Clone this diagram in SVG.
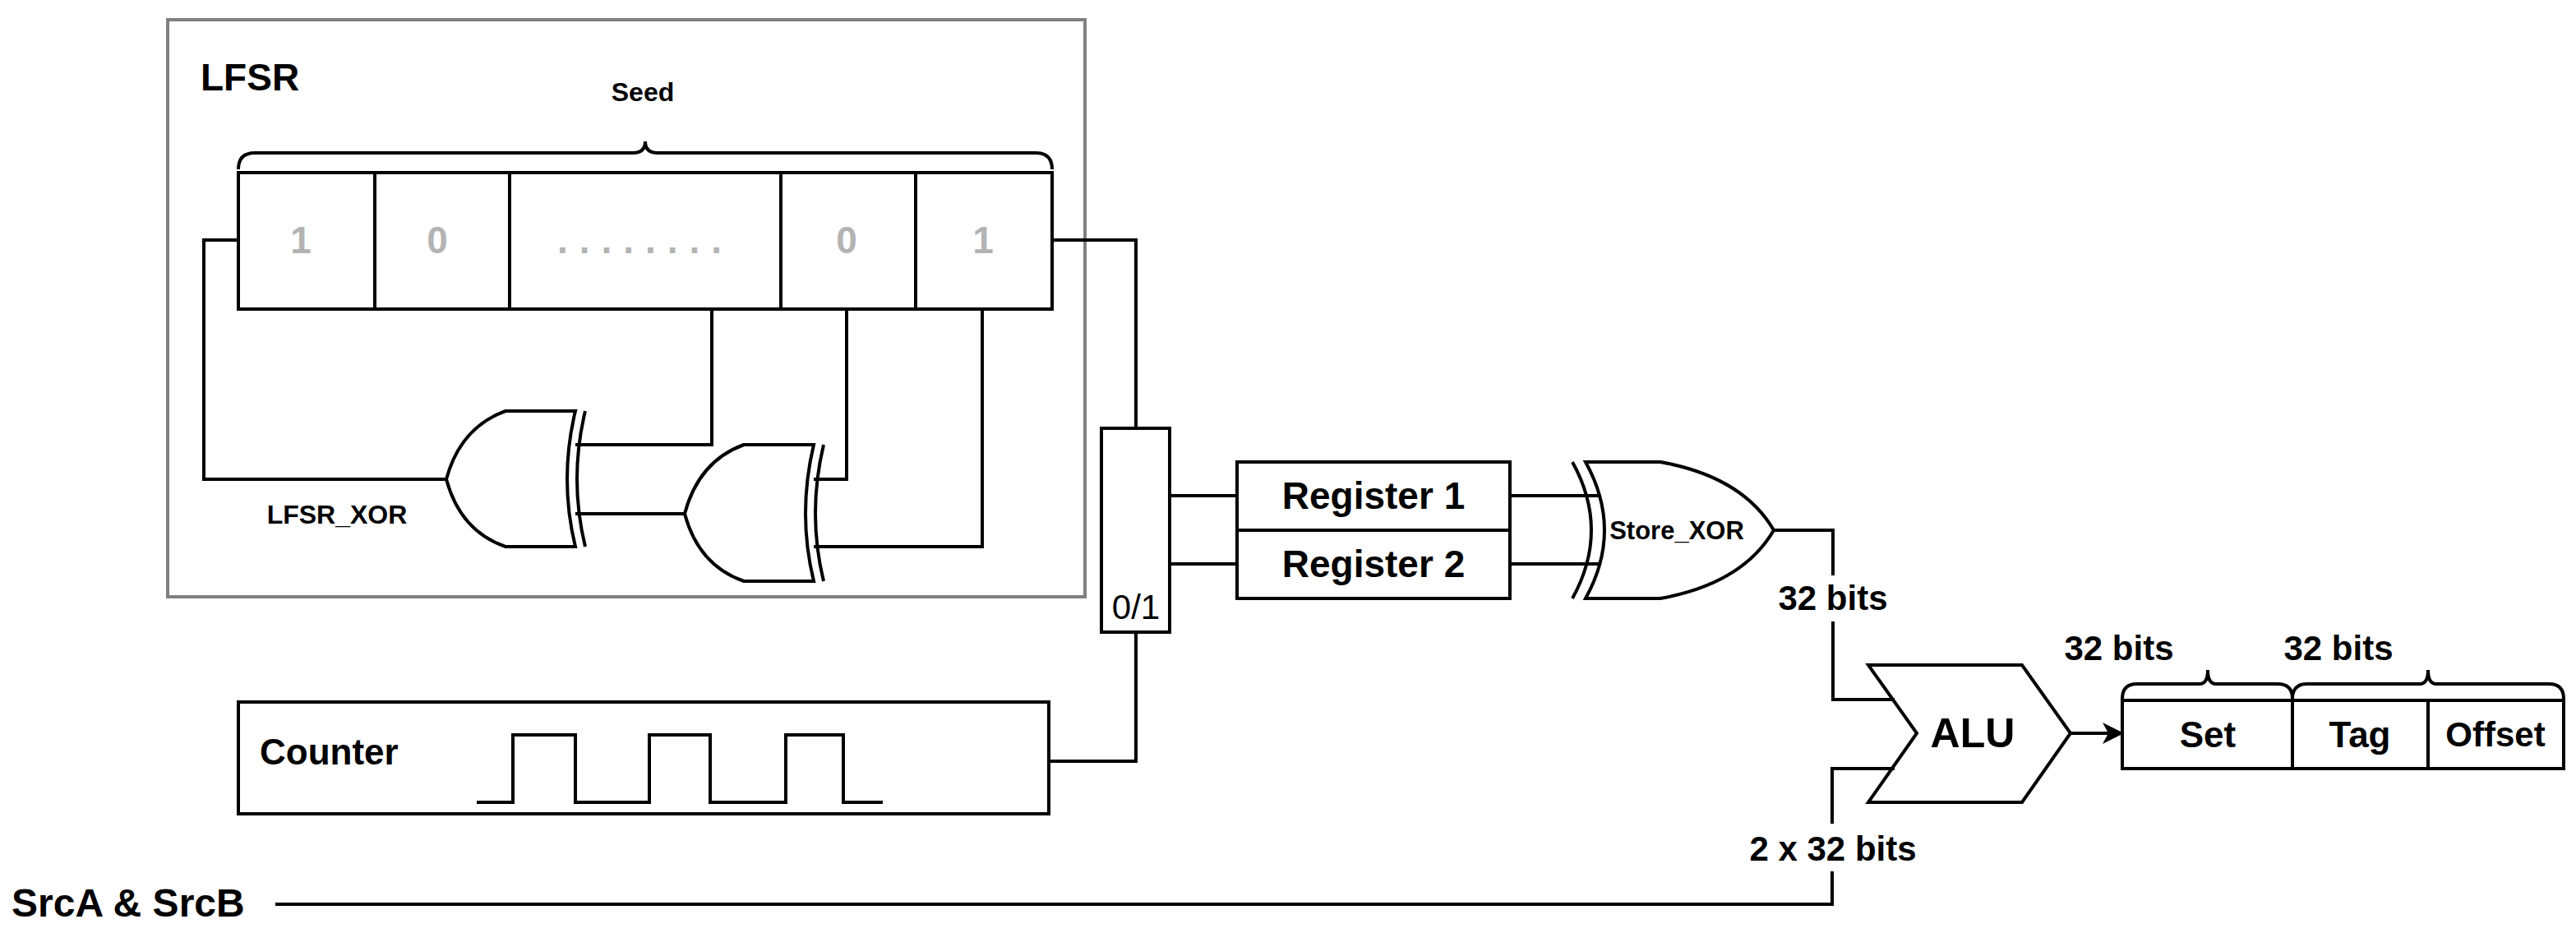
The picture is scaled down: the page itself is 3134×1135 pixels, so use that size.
<svg xmlns="http://www.w3.org/2000/svg" width="3134" height="1135" viewBox="0 0 3134 1135">
<style>
.s{fill:none;stroke:#000;stroke-width:4}
.b{fill:#fff;stroke:#000;stroke-width:4}
.t{font-family:"Liberation Sans",Arial,sans-serif;font-weight:bold;fill:#000;text-anchor:middle;dominant-baseline:central}
.g{font-family:"Liberation Sans",Arial,sans-serif;font-weight:bold;fill:#b3b3b3;font-size:46px;text-anchor:middle;dominant-baseline:central}
</style>
<defs>
<marker id="ah" markerWidth="26" markerHeight="26" refX="24" refY="13" orient="auto" markerUnits="userSpaceOnUse" viewBox="0 0 26 26"><path d="M0,0 L26,13 L0,26 L7,13 z" fill="#000"/></marker>
</defs>
<g id="lfsr">
<rect x="204" y="24" width="1116" height="702" fill="none" stroke="#808080" stroke-width="4"/>
<text class="t" x="244" y="94" font-size="46" style="text-anchor:start">LFSR</text>
<text class="t" x="782" y="112" font-size="32">Seed</text>
<path class="s" d="M290,206 Q290,186 310,186 L770,186 Q785,186 785,172 Q785,186 800,186 L1260,186 Q1280,186 1280,206"/>
<rect class="b" x="290" y="210" width="990" height="166"/>
<path class="s" d="M456,210V376M620,210V376M950,210V376M1114,210V376"/>
<text class="g" x="366" y="292">1</text>
<text class="g" x="532" y="292">0</text>
<text class="g" x="785" y="292" letter-spacing="14">........</text>
<text class="g" x="1030" y="292">0</text>
<text class="g" x="1196" y="292">1</text>
<text class="t" x="410" y="626" font-size="32">LFSR_XOR</text>
</g>
<g id="lfsr_xor1">
<path class="b" d="M700,500 L615,500 Q560,520 543,583 Q560,646 615,665 L700,665 Q680,583 700,500 Z"/>
<path class="s" d="M712,500 Q692,583 712,665"/>
</g>
<g id="lfsr_xor2">
<path class="b" d="M990,541 L905,541 Q850,561 833,625 Q850,688 905,707 L990,707 Q970,625 990,541 Z"/>
<path class="s" d="M1002,541 Q982,625 1002,707"/>
</g>
<g id="mux">
<rect class="b" x="1340" y="521" width="83" height="248"/>
<text class="t" x="1382" y="738" font-size="42" style="font-weight:normal">0/1</text>
</g>
<g id="registers">
<rect class="b" x="1505" y="562" width="332" height="83"/>
<rect class="b" x="1505" y="645" width="332" height="83"/>
<text class="t" x="1671" y="603" font-size="46">Register 1</text>
<text class="t" x="1671" y="686" font-size="46">Register 2</text>
</g>
<g id="store_xor">
<path class="b" d="M1929,562 L2020,562 Q2120,580 2158,645 Q2120,710 2020,728 L1929,728 Q1975,645 1929,562 Z"/>
<path class="s" d="M1913,562 Q1959,645 1913,728"/>
<text class="t" x="2040" y="645" font-size="31">Store_XOR</text>
</g>
<g id="counter">
<rect class="b" x="290" y="854" width="986" height="136"/>
<text class="t" x="316" y="914" font-size="44" style="text-anchor:start">Counter</text>
<path class="s" d="M580,976H624V894H700V976H790V894H864V976H956V894H1026V976H1074"/>
</g>
<g id="alu">
<path class="b" d="M2273,809 L2460,809 L2519,892 L2460,976 L2273,976 L2332,892 Z"/>
<text class="t" x="2400" y="892" font-size="50">ALU</text>
</g>
<g id="address">
<rect class="b" x="2582" y="852" width="537" height="83"/>
<path class="s" d="M2789,852V935M2954,852V935"/>
<text class="t" x="2686" y="893" font-size="44">Set</text>
<text class="t" x="2871" y="893" font-size="44">Tag</text>
<text class="t" x="3036" y="893" font-size="42">Offset</text>
<path class="s" d="M2582,850 Q2582,832 2600,832 L2676,832 Q2686,832 2686,815 Q2686,832 2696,832 L2771,832 Q2789,832 2789,850 Q2789,832 2807,832 L2944,832 Q2954,832 2954,815 Q2954,832 2964,832 L3101,832 Q3119,832 3119,850"/>
<text class="t" x="2578" y="788" font-size="42">32 bits</text>
<text class="t" x="2845" y="788" font-size="42">32 bits</text>
</g>
<g id="labels">
<text class="t" x="2230" y="727" font-size="42">32 bits</text>
<text class="t" x="2230" y="1032" font-size="42">2 x 32 bits</text>
<text class="t" x="14" y="1098" font-size="48" style="text-anchor:start">SrcA &amp; SrcB</text>
</g>
<g id="connectors" class="s">
<path d="M290,292H248V583H543"/>
<path d="M700,541H866V376"/>
<path d="M700,625H833"/>
<path d="M990,583H1030V376"/>
<path d="M990,665H1195V376"/>
<path d="M1280,292H1382V521"/>
<path d="M1276,926H1382V769"/>
<path d="M1423,603H1505M1423,686H1505"/>
<path d="M1837,603H1945M1837,686H1945"/>
<path d="M2158,645H2230V700"/>
<path d="M2230,756V851H2305"/>
<path d="M2305,935H2229V1002"/>
<path d="M2229,1060V1100H335"/>
<path d="M2519,892H2582" marker-end="url(#ah)"/>
</g>
</svg>
